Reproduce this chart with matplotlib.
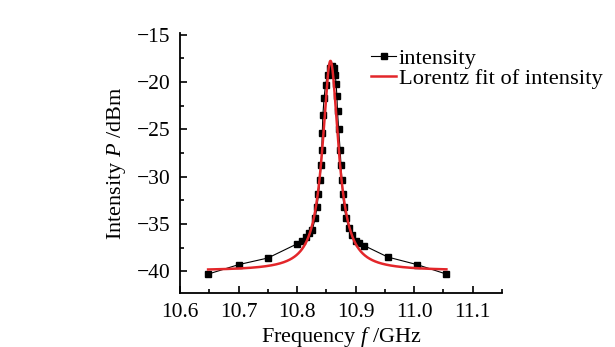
import numpy as np
import matplotlib.pyplot as plt
from matplotlib.ticker import MultipleLocator

plt.rcParams['font.family'] = 'Liberation Serif'
plt.rcParams['mathtext.fontset'] = 'custom'
plt.rcParams['mathtext.rm'] = 'Liberation Serif'
plt.rcParams['mathtext.it'] = 'Liberation Serif:italic'

# measured points (GHz, dBm)
freq = [10.648, 10.700, 10.750, 10.800, 10.809, 10.816, 10.821, 10.826,
        10.831, 10.834, 10.8365, 10.839, 10.841, 10.842, 10.843, 10.844,
        10.846, 10.8485, 10.852, 10.856, 10.859,
        10.863, 10.865, 10.8667, 10.868, 10.869, 10.871, 10.8735, 10.875,
        10.8765, 10.878, 10.880, 10.884, 10.888, 10.893, 10.900, 10.906,
        10.915, 10.955, 11.005, 11.055]
power = [-40.3, -39.3, -38.6, -37.1, -36.8, -36.4, -36.0, -35.6,
         -34.4, -33.2, -31.8, -30.4, -28.8, -27.2, -25.4, -23.5,
         -21.7, -20.3, -19.2, -18.5, -18.3,
         -18.5, -19.2, -20.2, -21.5, -23.1, -25.0, -27.2, -28.8,
         -30.4, -31.8, -33.2, -34.4, -35.4, -36.2, -36.8, -37.0,
         -37.3, -38.5, -39.3, -40.3]

# Lorentz fit parameters
y0 = -39.95     # baseline
xc = 10.857     # centre
w = 0.033       # FWHM
height = 22.2   # peak above baseline

xf = np.linspace(freq[0], freq[-1], 600)
yf = y0 + height * w**2 / (4 * (xf - xc)**2 + w**2)

fig = plt.figure(figsize=(6.15, 3.47), dpi=100)
ax = fig.add_axes([0.2927, 0.1556, 0.5236, 0.7494])

ax.plot(freq, power, '-s', color='black', lw=0.8, ms=4.5, label='intensity')
ax.plot(xf, yf, color='#e3262a', lw=1.8, label='Lorentz fit of intensity')

ax.set_xlim(10.6, 11.15)
ax.set_ylim(-42.3, -14.8)
ax.xaxis.set_major_locator(MultipleLocator(0.1))
ax.xaxis.set_minor_locator(MultipleLocator(0.05))
ax.yaxis.set_major_locator(MultipleLocator(5))
ax.yaxis.set_minor_locator(MultipleLocator(2.5))
ax.tick_params(which='both', direction='in', labelsize=15.5, width=1.2)
ax.tick_params(which='major', length=5, pad=7)
ax.tick_params(which='minor', length=3)
ax.set_yticklabels(['\u2212%d' % -v for v in ax.get_yticks()])
ax.set_xticklabels(['%.1f' % v for v in ax.get_xticks()])

for s in ['top', 'right']:
    ax.spines[s].set_visible(False)
for s in ['left', 'bottom']:
    ax.spines[s].set_linewidth(1.3)

ax.set_xlabel('Frequency $f$ /GHz', fontsize=16, labelpad=2)
ax.set_ylabel('Intensity $P$ /dBm', fontsize=16, labelpad=6)

fig.legend(loc='upper left', bbox_to_anchor=(0.588, 0.888), frameon=False,
           fontsize=16.2, handlelength=1.15, handletextpad=0.1,
           labelspacing=0.0, borderaxespad=0)

fig.savefig('out.png', dpi=100)
